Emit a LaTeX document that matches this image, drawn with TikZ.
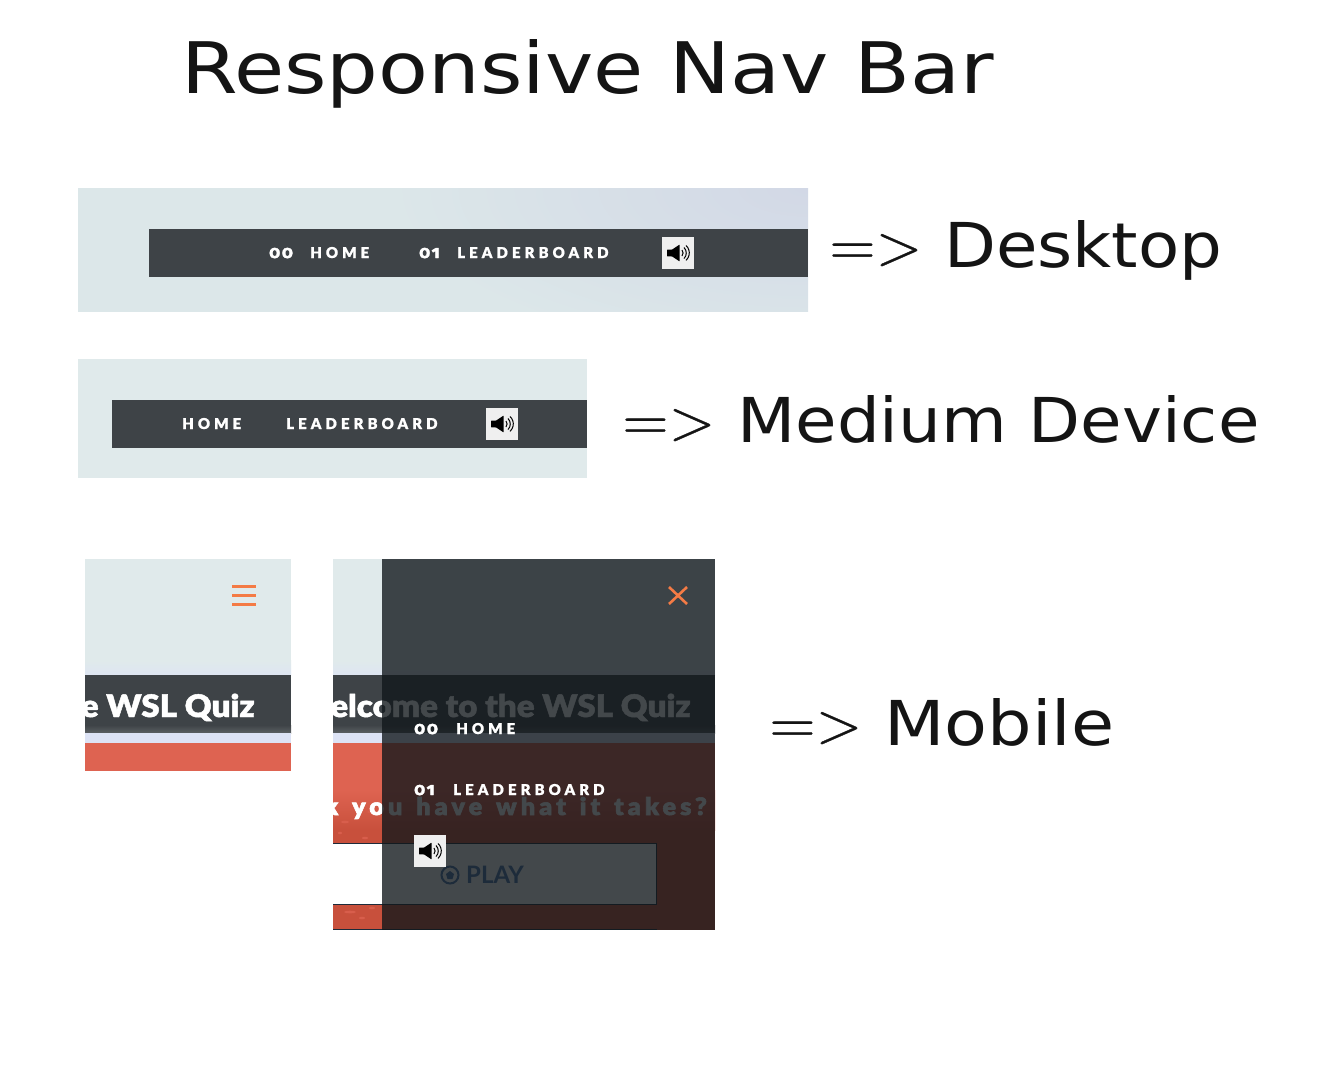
\documentclass[tikz,border=0pt]{standalone}
\usepackage{fontspec}
\setmainfont{Lato}
\newfontfamily\headfont{DejaVu Sans}
\newfontfamily\thinfont[FakeBold=0.5]{Latin Modern Roman}
\newfontfamily\navfont[Numbers=OldStyle,LetterSpace=10,BoldFeatures={FakeBold=2}]{Fira Sans}
\newfontfamily\navltr[LetterSpace=27,FakeBold=1]{Lato Black}
\newfontfamily\tagfont[LetterSpace=17,WordSpace=1.4,FakeStretch=1.05,FakeBold=2.5]{Lato Black}
\newfontfamily\quizfont[FakeStretch=1.07,FakeBold=1.5]{Lato Black}
\definecolor{navbar}{HTML}{3E4347}
\definecolor{sky}{HTML}{E0EAEB}
\definecolor{skydesk}{HTML}{DCE7E9}
\definecolor{skycorner}{HTML}{D2D8E6}
\definecolor{skyblue}{HTML}{DDE3F5}
\definecolor{redA}{HTML}{DE6351}
\definecolor{redB}{HTML}{C8503C}
\definecolor{orangeA}{HTML}{F47B45}
\definecolor{veil}{HTML}{11171B}
\definecolor{navy}{HTML}{1D2B3A}
\definecolor{spkbox}{HTML}{EFEFEF}
\newcommand{\headlabel}[3]{\raisebox{3pt}{\resizebox{93pt}{30pt}{\thinfont =>}}\hspace{#3pt}\resizebox{#1pt}{47pt}{\headfont #2}}
\tikzset{
  x=1pt,y=-1pt,
  head/.style={anchor=base west,inner sep=0pt,text=black!92,font=\headfont},
  navnum/.style={anchor=base west,inner sep=0pt,text=white,font=\navfont\bfseries\fontsize{17.5}{17.5}\selectfont},
  navword/.style={anchor=base west,inner sep=0pt,text=white,font=\navltr\fontsize{15}{15}\selectfont},
  quiz/.style={anchor=base east,inner sep=0pt,text=white,font=\quizfont\fontsize{31}{31}\selectfont},
  tagline/.style={anchor=base east,inner sep=0pt,text=white,font=\tagfont\fontsize{24}{24}\selectfont},
  speaker/.pic={
    \fill[spkbox] (-16,-16) rectangle (16,16);
    \fill[black,rounded corners=0.6pt] (-11,-3.4) -- (-6,-3.4) -- (1.7,-8.5) -- (1.7,8.5) -- (-6,3.4) -- (-11,3.4) -- cycle;
    \draw[black,line width=1pt] (4,-3) arc (-40:40:4.6);
    \draw[black,line width=1pt] (6,-5.5) arc (-45:45:7.8);
    \draw[black,line width=1pt] (8,-7.5) arc (-48:48:10);
  }
}
\begin{document}
\begin{tikzpicture}
\useasboundingbox (0,0) rectangle (1320,1080);
\fill[white] (0,0) rectangle (1320,1080);

% title
\node[head] (title) at (181,93) {\resizebox{813pt}{54pt}{Responsive Nav Bar}};

% desktop
\fill[skydesk] (78,188) rectangle (808,312);
\begin{scope}
  \clip (78,188) rectangle (808,311.4);
  \shade[inner color=skycorner,outer color=skydesk] (808,188) ellipse[x radius=420,y radius=170];
\end{scope}
\fill[navbar] (149,229) rectangle (808,277);
\node[navnum] (d00) at (269,258) {00};
\node[navword] (dhome) at (310,258) {HOME};
\node[navnum] (d01) at (419,258) {01};
\node[navword] (dlead) at (457,258) {LEADERBOARD};
\pic (dspk) at (678,253) {speaker};
\node[head] (dlabel) at (829,267) {\headlabel{278}{Desktop}{22}};

% medium
\fill[sky] (78,359) rectangle (587,478);
\fill[navbar] (112,400) rectangle (587,448);
\node[navword] (mhome) at (182,429) {HOME};
\node[navword] (mlead) at (286,429) {LEADERBOARD};
\pic (mspk) at (502,424) {speaker};
\node[head] (mdlabel) at (622,442) {\headlabel{522}{Medium Device}{22}};

% mobile closed
\fill[sky] (85,559) rectangle (291,675);
\shade[top color=sky,bottom color=skyblue!70!sky] (85,660) rectangle (291,675);
\fill[navbar] (85,675) rectangle (291,733);
\shade[top color=navbar,bottom color=navbar!85!white] (85,725) rectangle (291,733);
\fill[skyblue] (85,733) rectangle (291,743);
\fill[redA] (85,743) rectangle (291,771);
\foreach \yy in {585,594,603} \fill[orangeA] (232,\yy) rectangle (256,\yy+3);
\begin{scope}
  \clip (85,675) rectangle (291,733);
  \node[quiz] (q1) at (255,717) {Welcome to the WSL Quiz};
\end{scope}

% mobile open: page beneath
\begin{scope}
  \clip (333,559) rectangle (715,930);
  \fill[sky] (333,559) rectangle (715,675);
  \shade[top color=sky,bottom color=skyblue!70!sky] (333,660) rectangle (715,675);
  \fill[navbar] (333,675) rectangle (715,733);
  \shade[top color=navbar,bottom color=navbar!85!white] (333,725) rectangle (715,733);
  \fill[skyblue] (333,733) rectangle (715,743);
  \fill[redA] (333,743) rectangle (715,790);
  \shade[top color=redA,bottom color=redB] (333,790) rectangle (715,830);
  \fill[redB] (333,830) rectangle (715,930);
  \foreach \px/\py/\pr in {345/822/4,372/812/5,365/838/3,340/833/2,350/912/6,362/918/3,372/908/3}
    \fill[redA!75!redB] (\px,\py) ellipse[x radius=\pr,y radius=1.3];
  \node[quiz] (q2) at (691,717) {Welcome to the WSL Quiz};
  \node[tagline] (tag) at (707,815) {Think you have what it takes?};
  \fill[white] (333,844) rectangle (656,904);
  \draw[navy,line width=1pt] (333,843.5) -- (656.5,843.5) -- (656.5,904.5) -- (333,904.5);
  \draw[navy,line width=1pt] (333,929.5) -- (657,929.5);
  % sliding panel
  \fill[veil,fill opacity=0.79] (382,559) rectangle (715,930);
\end{scope}
\node[anchor=base west,inner sep=0pt,text=navy,font=\bfseries\fontsize{24}{24}\selectfont] (play) at (466,883) {PLAY};
\node[circle,draw=navy,line width=2pt,minimum size=17pt,inner sep=0pt] (ball) at (450,875) {};
\fill[navy] (450,871) -- (454,874) -- (452.5,879) -- (447.5,879) -- (446,874) -- cycle;
\draw[orangeA,line width=2.6pt] (669,587) -- (687,604) (687,587) -- (669,604);
\node[navnum] (o00) at (414,734) {00};
\node[navword] (ohome) at (456,734) {HOME};
\node[navnum] (o01) at (414,795) {01};
\node[navword] (olead) at (453,795) {LEADERBOARD};
\pic (ospk) at (430,851) {speaker};
\node[head] (olabel) at (769,745) {\headlabel{230}{Mobile}{22}};
\end{tikzpicture}
\end{document}
